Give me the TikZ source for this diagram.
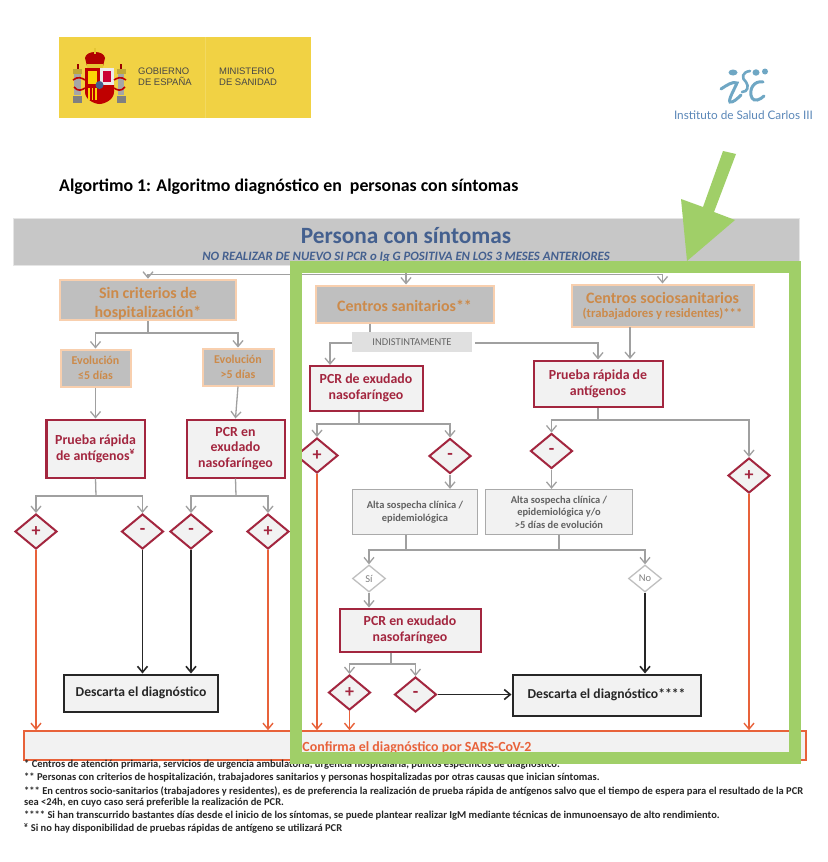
\documentclass[tikz,border=0pt]{standalone}
\usepackage{fontspec}
\setmainfont{Carlito}
\newfontfamily\isfont{Lato}
\newfontfamily\govfont{Liberation Sans}
\usetikzlibrary{shapes.geometric,arrows.meta}
\definecolor{maroon}{HTML}{A3263F}
\definecolor{peach}{HTML}{F8CFAE}
\definecolor{ochre}{HTML}{CC8A4A}
\definecolor{midgray}{HTML}{BFBFBF}
\definecolor{pale}{HTML}{F2F2F2}
\definecolor{linegray}{HTML}{A0A0A0}
\definecolor{redor}{HTML}{E8623A}
\definecolor{grass}{HTML}{A0CF68}
\definecolor{mustard}{HTML}{F1D244}
\definecolor{navyt}{HTML}{44608F}
\definecolor{isblue}{HTML}{6FA7C4}
\newcommand{\fs}[1]{\fontsize{#1}{#1}\selectfont}
\tikzset{
  x=1bp,y=-1bp,
  txtnode/.style={inner sep=0pt,align=center,text depth=0pt},
  lowered/.style={execute at begin node={\rule{0pt}{.95em}}},
  peachbox/.style={draw=peach,fill=midgray,line width=2bp,inner sep=0pt,align=center,text=ochre,font=\bfseries,lowered},
  redbox/.style={draw=maroon,fill=pale,line width=2bp,inner sep=0pt,align=center,text=maroon,font=\bfseries\fs{13.9},lowered},
  graybox/.style={draw=linegray!90,fill=pale,line width=1.3bp,inner sep=0pt,align=center,text=black!62,font=\bfseries\fs{10.5},lowered},
  blackbox/.style={draw=black!85,fill=pale,line width=2bp,inner sep=0pt,text=black!85,font=\bfseries\fs{13.7}},
  diam/.style={diamond,draw=maroon,fill=pale,line width=2bp,inner sep=0pt,minimum width=42bp,minimum height=35bp,text=maroon,font=\bfseries\fs{18}},
  graydiam/.style={diamond,draw=black!25,fill=white,line width=1.3bp,inner sep=0pt,minimum width=33bp,minimum height=27bp,text=black!50,font=\fs{10.5}},
  gline/.style={draw=linegray,line width=1.3bp},
  garrow/.style={gline,-{Straight Barb[length=6bp,width=10bp]}},
  karrow/.style={draw=black!85,line width=1.6bp,-{Straight Barb[length=6bp,width=10bp]}},
  rarrow/.style={draw=redor,line width=1.4bp,-{Straight Barb[length=6bp,width=10bp]}},
  fnote/.style={anchor=west,inner sep=0pt,text=black!85,font=\bfseries\fs{10.55}},
}
\begin{document}
\begin{tikzpicture}
\useasboundingbox (0,0) rectangle (828,862);
\fill[white] (0,0) rectangle (828,862);

% Ministry logo
\fill[mustard] (59,37) rectangle (311,118);
\draw[mustard!85!white,line width=.6bp] (205,37) -- (205,118);
% pillars
\foreach \px in {77.5,121}{
  \fill[black!35] (\px-3.2,73) rectangle (\px+3.2,95);
  \fill[black!20!mustard] (\px-4.5,69) rectangle (\px+4.5,74);
  \fill[black!50] (\px-4.5,96) rectangle (\px+4.5,103);
  \fill[red!60!black] (\px-1,64) rectangle (\px+1,69);
}
% crown
\fill[red!70!black] (85,58) .. controls (86,50) and (104,50) .. (105,58) -- (103,66) -- (87,66) -- cycle;
\fill[yellow!55!brown] (87,64) rectangle (103,67.5);
\fill[yellow!55!brown] (94,48) rectangle (96,54);
% shield
\fill[red!75!black] (85,68) rectangle (114,90);
\fill[black!8] (100,68) rectangle (114,85);
\fill[red!60!violet] (103,71) rectangle (111,82);
\fill[yellow!70!orange] (88,71) rectangle (97,84);
\fill[red!75!black] (85,85) -- (114,85) -- (114,92) .. controls (114,100) and (104,104) .. (99.5,104) .. controls (95,104) and (85,100) .. (85,92) -- cycle;
\foreach \sx in {88,91.5,95}{\fill[yellow!70!orange] (\sx,88) rectangle (\sx+1.7,100);}
\fill[navyt] (99.5,85) circle (4);
% ribbons
\draw[red!75!black,line width=1.6bp] (73,80) .. controls (78,76) and (82,78) .. (85,80);
\draw[red!75!black,line width=1.6bp] (126,80) .. controls (121,76) and (117,78) .. (114,80);
\draw[red!75!black,line width=1.6bp] (74,87) .. controls (78,92) and (82,90) .. (85,88);
\draw[red!75!black,line width=1.6bp] (125,87) .. controls (121,92) and (117,90) .. (114,88);
\node[txtnode,anchor=west,font=\govfont\fs{9.5},text=black!72,align=left] (gob) at (138,76.5) {GOBIERNO\\[1.5pt]DE ESPAÑA};
\node[txtnode,anchor=west,font=\govfont\fs{9.5},text=black!72,align=left] (min) at (219,76.5) {MINISTERIO\\[1.5pt]DE SANIDAD};

% ISCIII logo
\fill[isblue] (733,72.5) ellipse (4.5 and 3);
\fill[isblue] (756,72.5) ellipse (3.5 and 3.2);
\fill[isblue] (765,71.5) ellipse (3 and 3);
\draw[isblue,line width=3bp,line cap=round] (721,89) .. controls (727,85) and (733,81) .. (737,83) .. controls (734,90) and (728,100) .. (730,102) .. controls (733,103) and (738,98) .. (741,95);
\draw[isblue,line width=2.6bp,line cap=round] (750,71) .. controls (742,72) and (741,78) .. (746,82) .. controls (749,86) and (748,92) .. (742,92);
\draw[isblue,line width=3bp,line cap=round] (763,82) .. controls (754,80) and (748,90) .. (752,98) .. controls (754,102) and (760,100) .. (764,96);
\node[txtnode,anchor=center,font=\isfont\fs{11.8},text=black!10!isblue!90!blue] (isc) at (743.5,115.5) {Instituto de Salud Carlos III};

% Title
\node[txtnode,anchor=west,font=\bfseries\fs{17.9},text=black] (title) at (59,185) {Algortimo 1: Algoritmo diagnóstico en\ \ personas con síntomas};

% Header
\node[fill=black!22,draw=black!10,line width=1bp,minimum width=786bp,minimum height=47bp,inner sep=0pt] (head) at (406.5,242) {};
\node[txtnode,font=\bfseries\fs{23.4},text=navyt] (htitle) at (406,235.5) {Persona con síntomas};
\node[txtnode,font=\bfseries\itshape\fs{12.8},text=navyt] (hsub) at (406,256) {NO REALIZAR DE NUEVO SI PCR o Ig G POSITIVA EN LOS 3 MESES ANTERIORES};

% Left branch
\node[peachbox,minimum width=175bp,minimum height=38bp,font=\bfseries\fs{16}] (sin) at (148,300) {\rule{0pt}{1.2em}Sin criterios de\\[3pt]hospitalización*};
\node[peachbox,minimum width=70bp,minimum height=37bp,font=\bfseries\fs{12}] (ev1) at (95.5,368) {Evolución\\[3pt]≤5 días};
\node[peachbox,minimum width=71bp,minimum height=37bp,font=\bfseries\fs{12}] (ev2) at (238,367) {Evolución\\[3pt]>5 días};
\node[redbox,minimum width=98bp,minimum height=58bp] (pra) at (95.5,448.5) {Prueba rápida\\[2pt]de antígenos\textsuperscript{¥}};
\node[redbox,minimum width=98bp,minimum height=58bp] (pcra) at (235.5,448.5) {PCR en\\[2pt]exudado\\[2pt]nasofaríngeo};
\node[diam] (d1) at (36,531.5) {+};
\node[diam] (d2) at (142.5,531.5) {-};
\node[diam] (d3) at (191,531.5) {-};
\node[diam] (d4) at (268,531.5) {+};
\node[blackbox,minimum width=153bp,minimum height=37bp] (desc1) at (141,693) {Descarta el diagnóstico};

% Confirm
\node[draw=redor,fill=pale,line width=1.6bp,minimum width=782bp,minimum height=29bp,inner sep=0pt] (conf) at (415,745.5) {};
\node[txtnode,font=\bfseries\fs{14},text=redor] (conft) at (417,747) {Confirma el diagnóstico por SARS-CoV-2};

% Middle / right
\node[peachbox,minimum width=178bp,minimum height=37bp,font=\bfseries\fs{16}] (cs) at (404.5,304) {Centros sanitarios**};
\node[peachbox,minimum width=182bp,minimum height=42bp] (cso) at (662.5,305.5) {{\fs{16}Centros sociosanitarios}\\[2pt]{\fs{12.7}(trabajadores y residentes)***}};
\node[fill=black!12,inner sep=0pt,minimum width=120bp,minimum height=20bp,font=\fs{10.5},text=black!60] (ind) at (412,342) {INDISTINTAMENTE};
\node[redbox,minimum width=113bp,minimum height=45bp] (pcrb) at (366,388) {PCR de exudado\\[2.5pt]nasofaríngeo};
\node[redbox,minimum width=129bp,minimum height=46bp] (prb) at (598,383.5) {Prueba rápida de\\[2.5pt]antígenos};
\node[diam] (d5) at (317,455.5) {+};
\node[diam] (d6) at (450,456) {-};
\node[diam] (d7) at (551.5,451) {-};
\node[diam] (d8) at (749,475.5) {+};
\node[graybox,minimum width=125bp,minimum height=45bp] (alta1) at (415,512) {Alta sospecha clínica /\\[2pt]epidemiológica};
\node[graybox,minimum width=147bp,minimum height=45bp] (alta2) at (559,512) {Alta sospecha clínica /\\[2pt]epidemiológica y/o\\[2pt]>5 días de evolución};
\node[graydiam] (si) at (369,578.5) {Sí};
\node[graydiam] (no) at (645,578.5) {No};
\node[redbox,minimum width=141bp,minimum height=43bp] (pcrc) at (410,630) {PCR en exudado\\[2.5pt]nasofaríngeo};
\node[diam] (d9) at (349.5,692.5) {+};
\node[diam] (d10) at (415.5,694.5) {-};
\node[blackbox,minimum width=188bp,minimum height=41bp] (desc2) at (606.5,695) {Descarta el diagnóstico****};

% Junctions
\coordinate (jt) at (406,274.5);
\coordinate (j1) at (148,333);
\coordinate (j2) at (96,496);
\coordinate (j3) at (236,496);
\coordinate (j4) at (359,424);
\coordinate (j5) at (598,420);
\coordinate (j6a) at (406,550);
\coordinate (j6b) at (559,550);
\coordinate (j7) at (391,664);
\coordinate (i1) at (370,332);
\coordinate (il) at (352,343);
\coordinate (ir) at (475,343);
\coordinate (a1) at (630,327);
\coordinate (a2) at (630,359);
\coordinate (b1) at (330,365);

% Connectors
\draw[gline] (head.south -| jt) -- (jt);
\draw[garrow] (jt) -| (sin.north);
\draw[garrow] (jt) -- (cs.north -| jt);
\draw[garrow] (jt) -| (cso.north);
\draw[gline] (sin.south) -- (j1);
\draw[garrow] (j1) -| (ev1.north);
\draw[garrow] (j1) -| (ev2.north);
\draw[garrow] (ev1.south) -- (pra.north);
\draw[garrow] (ev2.south) -- (pcra.north);
\draw[gline] (pra.south) -- (j2);
\draw[garrow] (j2) -| (d1.north);
\draw[garrow] (j2) -| (d2.north);
\draw[gline] (pcra.south) -- (j3);
\draw[garrow] (j3) -| (d3.north);
\draw[garrow] (j3) -| (d4.north);
\draw[rarrow] (d1.south) -- (d1.south |- conf.north);
\draw[rarrow] (d4.south) -- (d4.south |- conf.north);
\draw[karrow] (d2.south) -- (d2.south |- desc1.north);
\draw[karrow] (d3.south) -- (d3.south |- desc1.north);

\draw[gline] (cs.south -| i1) -- (i1);
\draw[garrow] (il) -| (b1);
\draw[garrow] (ir) -| (prb.north);
\draw[garrow] (a1) -- (a2);
\draw[gline] (pcrb.south -| j4) -- (j4);
\draw[garrow] (j4) -| (d5.north);
\draw[garrow] (j4) -| (d6.north);
\draw[gline] (prb.south) -- (j5);
\draw[garrow] (j5) -| (d7.north);
\draw[garrow] (j5) -| (d8.north);
\draw[garrow] (d6.south) -- (d6.south |- alta1.north);
\draw[garrow] (d7.south) -- (d7.south |- alta2.north);
\draw[rarrow] (d5.south) -- (d5.south |- conf.north);
\draw[rarrow] (d8.south) -- (d8.south |- conf.north);
\draw[rarrow] (d9.south) -- (d9.south |- conf.north);
\draw[gline] (alta1.south -| j6a) -- (j6a);
\draw[gline] (alta2.south -| j6b) -- (j6b);
\draw[gline] (j6a) -- (j6b);
\draw[garrow] (j6a) -| (si.north);
\draw[garrow] (j6b) -| (no.north);
\draw[garrow] (si.south) -- (si.south |- pcrc.north);
\draw[gline] (pcrc.south -| j7) -- (j7);
\draw[garrow] (j7) -| (d9.north);
\draw[garrow] (j7) -| (d10.north);
\draw[karrow] (no.south) -- (no.south |- desc2.north);
\draw[karrow] (d10.east) -- (desc2.west |- d10.east);

% Footnotes
\node[fnote] (f1) at (24,765) {* Centros de atención primaria, servicios de urgencia ambulatoria, urgencia hospitalaria, puntos específicos de diagnóstico.};
\node[fnote] (f2) at (24,778) {** Personas con criterios de hospitalización, trabajadores sanitarios y personas hospitalizadas por otras causas que inician síntomas.};
\node[fnote] (f3) at (24,791) {*** En centros socio-sanitarios (trabajadores y residentes), es de preferencia la realización de prueba rápida de antígenos salvo que el tiempo de espera para el resultado de la PCR};
\node[fnote] (f4) at (24,803) {sea <24h, en cuyo caso será preferible la realización de PCR.};
\node[fnote] (f5) at (24,816) {**** Si han transcurrido bastantes días desde el inicio de los síntomas, se puede plantear realizar IgM mediante técnicas de inmunoensayo de alto rendimiento.};
\node[fnote] (f6) at (24,828) {\textsuperscript{¥} Si no hay disponibilidad de pruebas rápidas de antígeno se utilizará PCR};

% Green highlight
\draw[grass,line width=11.5bp] (296,267) rectangle (795,758);
\fill[grass] (723,151) -- (736,154) -- (714,212) -- (735,220) -- (687,261) -- (681,199) -- (703,207) -- cycle;
\end{tikzpicture}
\end{document}
